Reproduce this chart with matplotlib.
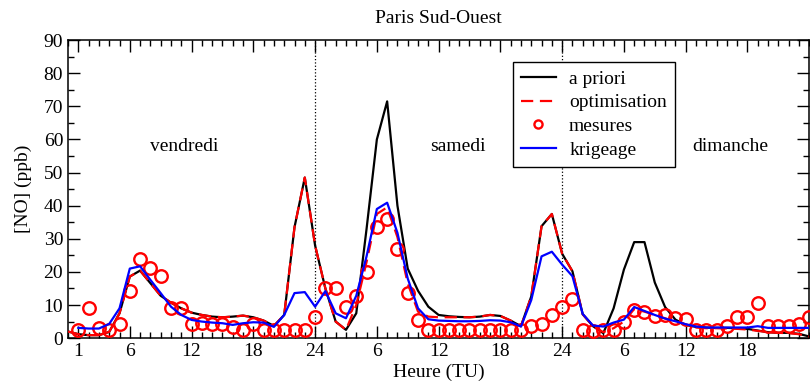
import numpy as np
import matplotlib
matplotlib.use("Agg")
from matplotlib import pyplot as plt
from matplotlib.ticker import MultipleLocator

plt.rcParams['font.family'] = ['Liberation Serif', 'DejaVu Serif']

# heures 0..72 pour les modeles, 1..72 pour mesures et krigeage
heures_mod = np.arange(0, 73)
heures_obs = np.arange(1, 73)

a_priori = [2.0, 1.2, 0.9, 0.9, 1.9, 7.5, 18.6, 20.4, 16.6, 12.8, 10.7, 9.0, 7.7,
            7.0, 6.5, 6.3, 6.5, 6.8, 6.3, 5.3, 3.7, 7.0, 33.5, 48.5, 28.0,
            15.0, 5.0, 2.5, 7.5, 33.0, 60.0, 71.5, 40.0, 21.0, 14.3, 9.5, 7.0,
            6.6, 6.4, 6.3, 6.5, 7.0, 6.7, 5.3, 3.6, 12.6, 33.8, 37.5, 25.5,
            20.2, 7.2, 3.6, 1.5, 9.0, 20.7, 29.0, 29.0, 16.8, 9.4, 5.6, 4.0,
            3.4, 3.2, 3.1, 3.1, 3.0, 2.8, 2.3, 1.8, 1.6, 1.6, 1.3, 0.5]

optimisation = [2.0, 1.2, 0.9, 0.9, 1.9, 7.5, 18.6, 20.4, 16.6, 12.8, 10.7, 9.0, 7.7,
                7.0, 6.5, 6.3, 6.5, 6.8, 6.3, 5.3, 3.7, 7.0, 33.5, 48.5, 28.0,
                15.0, 5.0, 2.5, 10.0, 23.0, 37.5, 39.5, 30.5, 16.5, 8.0, 6.5, 6.3,
                6.3, 6.3, 6.3, 6.5, 7.0, 6.7, 5.3, 3.6, 12.6, 33.8, 37.5, 25.5,
                20.2, 7.2, 3.6, 1.8, 3.0, 5.0, 8.8, 8.0, 7.0, 6.0, 5.0, 4.2,
                3.2, 3.0, 3.0, 2.9, 2.8, 2.6, 2.2, 1.8, 1.6, 1.5, 1.2, 0.5]

mesures = [2.5, 9.2, 3.2, 2.5, 4.2, 14.1, 23.9, 21.2, 18.9, 9.2, 9.0, 4.2,
           4.5, 4.3, 4.2, 3.4, 2.6, 4.2, 2.6, 2.6, 2.6, 2.6, 2.6, 6.3,
           15.1, 15.1, 9.5, 12.6, 19.9, 33.6, 35.9, 27.0, 13.6, 5.5, 2.6, 2.6,
           2.6, 2.6, 2.6, 2.6, 2.6, 2.6, 2.6, 2.6, 3.8, 4.3, 7.0, 9.4,
           11.8, 2.6, 2.1, 2.6, 2.4, 4.8, 8.5, 8.0, 6.7, 7.0, 6.0, 5.7,
           2.6, 2.6, 2.6, 3.6, 6.3, 6.3, 10.7, 3.6, 3.6, 3.6, 4.3, 6.3]

krigeage = [3.1, 2.9, 2.9, 4.3, 9.0, 21.0, 21.7, 17.6, 13.6, 9.5, 7.0, 5.5,
            5.0, 4.7, 4.5, 4.0, 4.5, 4.8, 4.7, 3.4, 7.0, 13.6, 13.9, 9.5,
            14.2, 7.5, 6.0, 12.8, 24.7, 39.0, 40.9, 31.8, 18.0, 9.0, 5.7, 5.3,
            5.2, 5.1, 5.1, 5.2, 5.4, 5.3, 4.8, 3.5, 11.5, 24.7, 26.1, 22.2,
            18.7, 7.3, 3.8, 3.5, 4.7, 5.6, 9.4, 8.2, 7.0, 5.9, 5.1, 4.2,
            3.5, 3.2, 3.2, 3.2, 3.2, 3.2, 3.6, 3.1, 3.1, 3.1, 3.1, 3.1]

pos_ticks = [1, 6, 12, 18, 24, 30, 36, 42, 48, 54, 60, 66]
lab_ticks = ['1', '6', '12', '18', '24', '6', '12', '18', '24', '6', '12', '18']

jours = ['vendredi', 'samedi', 'dimanche']
pos_jours = [11.3, 37.9, 64.3]

fs = 14

fig = plt.figure(figsize=(8.1, 3.86), dpi=100)
ax = fig.add_axes([0.084, 0.124, 0.915, 0.772])

ax.plot(heures_mod, a_priori, color='black', lw=1.6, label='a priori', zorder=3)
ax.plot(heures_mod, optimisation, color='red', lw=1.6, ls=(0, (5.5, 3)),
        label='optimisation', zorder=4)
ax.plot(heures_obs, mesures, ls='none', marker='o', ms=9, mfc='none',
        mec='red', mew=1.7, label='mesures', zorder=5)
ax.plot(heures_obs, krigeage, color='blue', lw=1.6, label='krigeage', zorder=6)

for h in (24, 48):
    ax.axvline(h, color='black', ls=':', lw=0.9, zorder=1)

for nom, x in zip(jours, pos_jours):
    ax.text(x, 58, nom, ha='center', va='center', fontsize=fs)

ax.set_xlim(0, 72)
ax.set_ylim(0, 90)
ax.set_xticks(pos_ticks)
ax.set_xticklabels(lab_ticks)
ax.xaxis.set_minor_locator(MultipleLocator(1))
ax.yaxis.set_major_locator(MultipleLocator(10))
ax.yaxis.set_minor_locator(MultipleLocator(5))
ax.tick_params(which='both', direction='in', top=True, right=True,
               labelsize=fs, width=1.0)
ax.tick_params(which='major', length=8.5)
ax.tick_params(which='minor', length=4.5)
for s in ax.spines.values():
    s.set_linewidth(1.1)

ax.set_title('Paris Sud-Ouest', fontsize=fs, pad=12)
ax.set_xlabel('Heure (TU)', fontsize=fs, labelpad=3)
ax.set_ylabel('[NO] (ppb)', fontsize=fs, labelpad=8)

leg = ax.legend(loc='upper left', bbox_to_anchor=(0.6, 0.926), fontsize=fs,
                fancybox=False, framealpha=1, edgecolor='black',
                handlelength=1.8, labelspacing=0.32, borderpad=0.4,
                handletextpad=0.7, borderaxespad=0, markerscale=0.65)
leg.get_frame().set_linewidth(1.0)

fig.savefig('out.png', dpi=100)
